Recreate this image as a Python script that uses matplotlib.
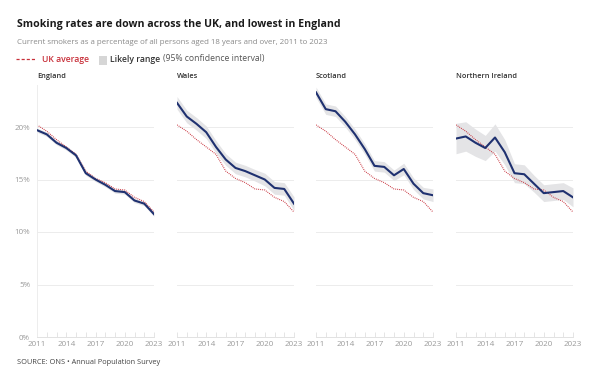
import matplotlib
matplotlib.use("Agg")
import matplotlib.pyplot as plt
from matplotlib.patches import Rectangle
from matplotlib.lines import Line2D

plt.rcParams["font.family"] = ["Open Sans", "DejaVu Sans"]

years = list(range(2011, 2024))
regions = ["England", "Wales", "Scotland", "Northern Ireland"]

uk_avg = [20.2, 19.6, 18.8, 18.1, 17.4, 15.8, 15.1, 14.7, 14.1, 14.0, 13.3, 12.9, 11.9]

england = [19.7, 19.3, 18.5, 18.0, 17.3, 15.6, 15.0, 14.5, 13.9, 13.8, 13.0, 12.7, 11.7]
wales = [22.3, 21.0, 20.3, 19.5, 18.1, 16.9, 16.1, 15.8, 15.4, 15.0, 14.2, 14.1, 12.7]
scotland = [23.3, 21.7, 21.5, 20.5, 19.3, 17.9, 16.3, 16.2, 15.4, 16.0, 14.6, 13.7, 13.5]
n_ireland = [18.9, 19.1, 18.5, 18.0, 19.0, 17.6, 15.6, 15.5, 14.6, 13.7, 13.8, 13.9, 13.3]

# half-width of the 95% confidence interval
england_ci = [0.2, 0.2, 0.2, 0.2, 0.2, 0.2, 0.2, 0.2, 0.2, 0.2, 0.2, 0.2, 0.2]
wales_ci = [0.6, 0.6, 0.6, 0.6, 0.6, 0.55, 0.55, 0.55, 0.55, 0.6, 0.6, 0.6, 0.65]
scotland_ci = [0.5, 0.5, 0.5, 0.5, 0.5, 0.5, 0.5, 0.5, 0.5, 0.55, 0.55, 0.55, 0.6]
n_ireland_ci = [1.45, 1.4, 1.3, 1.2, 1.3, 1.2, 0.9, 0.9, 0.8, 0.8, 0.8, 0.8, 0.9]

series = [england, wales, scotland, n_ireland]
cis = [england_ci, wales_ci, scotland_ci, n_ireland_ci]

yticks = [0, 5, 10, 15, 20]
xtick_years = [2011, 2014, 2017, 2020, 2023]

NAVY = "#1f3170"
RED = "#c8303a"
BAND = "#e4e4e6"
GRID = "#ececec"
TICK = "#9a9a9a"

W, H = 600, 382
fig = plt.figure(figsize=(W / 100, H / 100), dpi=100)


def fx(px):
    return px / W


def fy(py):
    return 1 - py / H


fig.text(fx(17), fy(25), "Smoking rates are down across the UK, and lowest in England",
         fontsize=7.6, fontweight="bold", color="#1a1a1a", va="center")
fig.text(fx(17), fy(43),
         "Current smokers as a percentage of all persons aged 18 years and over, 2011 to 2023",
         fontsize=5.7, color="#8a8a8a", va="center")

# legend row
ly = fy(59)
fig.add_artist(Line2D([fx(16), fx(36)], [ly, ly], color=RED, lw=0.9,
                      linestyle=(0, (2.5, 1.6)), transform=fig.transFigure))
fig.text(fx(42), ly, "UK average", fontsize=6.2, color=RED, fontweight="semibold", va="center")
fig.add_artist(Rectangle((fx(99), fy(65)), 8 / W, 9 / H,
                         facecolor="#d6d6d6", edgecolor="none", transform=fig.transFigure))
fig.text(fx(110), ly, "Likely range", fontsize=6.2, color="#333333",
         fontweight="semibold", va="center")
fig.text(fx(163), ly, "(95% confidence interval)", fontsize=6.2, color="#555555", va="center")

lefts = [37, 177, 316, 456]
for i, (name, vals, ci) in enumerate(zip(regions, series, cis)):
    ax = fig.add_axes([fx(lefts[i]), fy(337), 117 / W, 252 / H])
    lo = [v - c for v, c in zip(vals, ci)]
    hi = [v + c for v, c in zip(vals, ci)]
    ax.fill_between(years, lo, hi, color=BAND, lw=0, zorder=1)
    ax.plot(years, uk_avg, color=RED, lw=0.8, linestyle=(0, (0.8, 1.0)), zorder=2)
    ax.plot(years, vals, color=NAVY, lw=1.5, zorder=3, solid_joinstyle="round")
    ax.set_xlim(2011, 2023)
    ax.set_ylim(0, 24)
    ax.set_yticks([5, 10, 15, 20])
    ax.yaxis.grid(True, color=GRID, lw=0.7)
    ax.set_axisbelow(True)
    for s in ["top", "right"]:
        ax.spines[s].set_visible(False)
    ax.spines["bottom"].set_color("#e2e2e2")
    ax.spines["bottom"].set_linewidth(0.7)
    if i == 0:
        ax.spines["left"].set_color("#ededed")
        ax.spines["left"].set_linewidth(0.7)
        ax.set_yticks(yticks)
        ax.set_yticklabels([f"{v}%" for v in yticks])
        ax.tick_params(axis="y", length=0, labelsize=5.8, labelcolor=TICK, pad=5)
    else:
        ax.spines["left"].set_visible(False)
        ax.tick_params(axis="y", length=0, labelleft=False)
    ax.set_xticks(xtick_years)
    ax.set_xticks(years, minor=True)
    ax.tick_params(axis="x", which="both", direction="in", length=3.5, width=0.6,
                   color="#e0e0e0", labelsize=5.8, labelcolor=TICK, pad=3)
    ax.set_xticklabels([str(y) for y in xtick_years])
    ax.set_facecolor("none")
    fig.text(fx(lefts[i]), fy(76), name, fontsize=5.3, fontweight="semibold",
             color="#333333", va="center")

fig.text(fx(17), fy(362), "SOURCE: ONS \u2022 Annual Population Survey",
         fontsize=5.3, color="#444444", va="center")

fig.savefig("out.png", dpi=100)
